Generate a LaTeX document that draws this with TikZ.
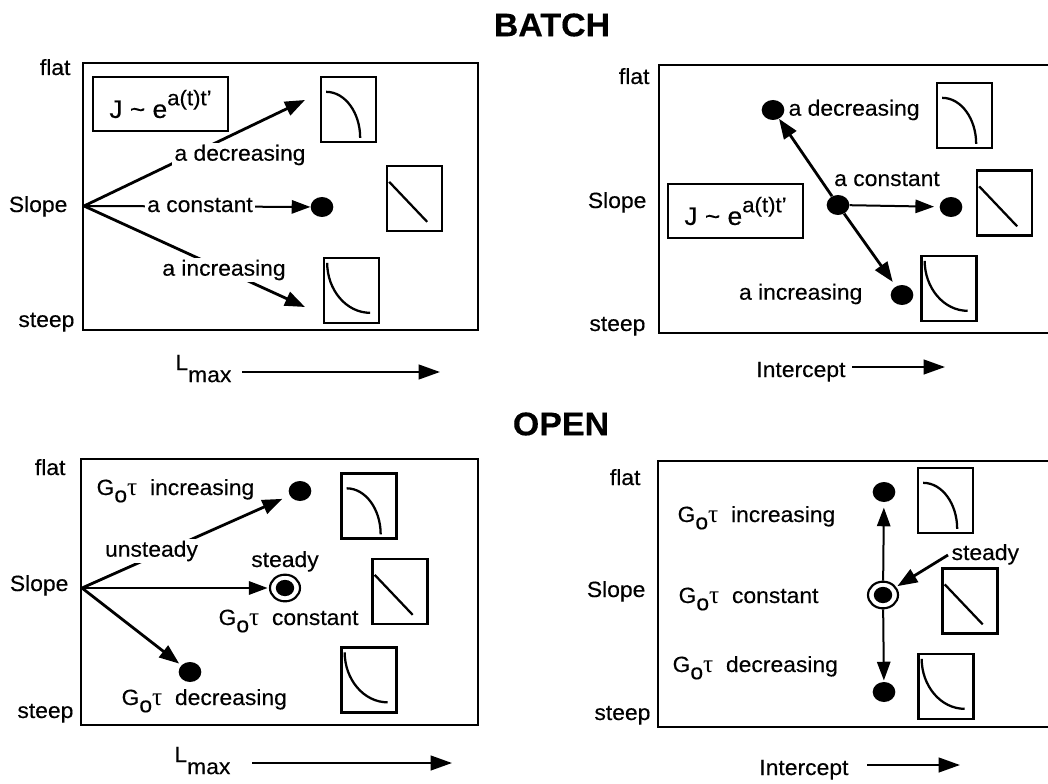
\documentclass[tikz,border=0pt]{standalone}
\usepackage{fontspec}
\setmainfont[FakeStretch=1.04,FakeBold=0.3]{Liberation Sans}
\newfontfamily\taufont[Scale=1.15]{Liberation Serif}
\usetikzlibrary{arrows.meta,shapes.geometric}
\newcommand\jtext{\fontsize{19}{22}\selectfont J \textasciitilde\ e\raisebox{0.5em}{\fontsize{16}{18}\selectfont a(t)t'}}
\newcommand\got{G\raisebox{-0.33em}{o}{\taufont τ}\ \ }
\newcommand\lmax{L\raisebox{-0.55em}{max}}
\begin{document}
\begin{tikzpicture}[x=0.75pt,y=-0.75pt,
  every node/.style={font=\fontsize{16.5}{19}\selectfont, inner sep=1pt},
  title/.style={font=\fontsize{24.5}{28}\selectfont\bfseries},
  panel/.style={draw, line width=2pt},
  jbox/.style={draw, line width=1.8pt, minimum width=101pt, minimum height=40.5pt, inner sep=0pt},
  thumb/.style={draw, line width=1.8pt, minimum width=41pt, minimum height=49pt, inner sep=0pt},
  thumbdec/.style={thumb, path picture={\draw[line width=1.7pt]
     ([shift={(5,15)}]path picture bounding box.north west) .. controls
     ([shift={(24,15)}]path picture bounding box.north west) and
     ([shift={(39,36)}]path picture bounding box.north west) ..
     ([shift={(39,61)}]path picture bounding box.north west);}},
  thumblin/.style={thumb, path picture={\draw[line width=1.7pt]
     ([shift={(2,16)}]path picture bounding box.north west) --
     ([shift={(40,56)}]path picture bounding box.north west);}},
  thumbinc/.style={thumb, path picture={\draw[line width=1.7pt]
     ([shift={(3,5)}]path picture bounding box.north west) .. controls
     ([shift={(3,32)}]path picture bounding box.north west) and
     ([shift={(22,55)}]path picture bounding box.north west) ..
     ([shift={(46,55)}]path picture bounding box.north west);}},
  dot/.style={ellipse, fill, minimum width=17pt, minimum height=15pt, inner sep=0pt},
  ring/.style={ellipse, draw, line width=1.6pt, fill=white, minimum width=22.5pt, minimum height=20pt, inner sep=0pt,
     path picture={\fill[black] (path picture bounding box.center) ellipse [x radius=6.9pt, y radius=6.1pt];}},
  arr/.style={-{Triangle[length=15pt,width=11pt]}, line width=2.1pt},
  arrthin/.style={-{Triangle[length=14pt,width=10pt]}, line width=1.5pt},
  axarr/.style={-{Triangle[length=16pt,width=11pt]}, line width=1.6pt},
  lbl/.style={fill=white, inner sep=1.5pt}
]
\useasboundingbox (0,0) rectangle (1048,784);

% titles
\node[title] (tb) at (552,25) {BATCH};
\node[title] (to) at (561,424) {OPEN};

% ---------------- panel 1 ----------------
\draw[panel] (83,63) rectangle (478,330);
\node[anchor=base east] (p1flat) at (72,75) {flat};
\node[anchor=base east] (p1slope) at (69,212) {Slope};
\node[anchor=base east] (p1steep) at (76,327) {steep};
\coordinate (o1) at (84,206);
\node[jbox] (j1) at (160.5,104) {\jtext};
\coordinate (t1a) at (305,100);
\coordinate (t1c) at (305,307);
\node[dot] (d1) at (322,207) {};
\draw[arr] (o1) -- (t1a);
\draw[arrthin] (o1) -- (d1);
\draw[arr] (o1) -- (t1c);
\node[lbl] (l1a) at (240,155) {a decreasing};
\node[lbl] (l1b) at (200,205) {a constant};
\node[lbl] (l1c) at (224,270) {a increasing};
\node[thumbdec] (k1a) at (348.5,109.5) {};
\node[thumblin] (k1b) at (414.5,198.5) {};
\node[thumbinc] (k1c) at (351.5,290.5) {};
\node[anchor=base east] (x1) at (233,370) {\lmax};
\coordinate (x1s) at (242,372);
\coordinate (x1e) at (440,372);
\draw[axarr] (x1s) -- (x1e);

% ---------------- panel 2 ----------------
\draw[panel] (659,65) rectangle (1056,333);
\node[anchor=base east] (p2flat) at (651,84) {flat};
\node[anchor=base east] (p2slope) at (648,208) {Slope};
\node[anchor=base east] (p2steep) at (647,331) {steep};
\node[jbox] (j2) at (735.5,211) {\jtext};
\node[dot] (c2) at (838,205) {};
\node[dot] (d2a) at (773,110) {};
\node[dot] (d2b) at (951,207) {};
\node[dot] (d2c) at (902,295) {};
\draw[arr] (c2) -- (d2a);
\draw[arrthin, shorten >=4pt] (c2) -- (d2b);
\draw[arr, shorten >=4pt] (c2) -- (d2c);
\node[anchor=west] (l2a) at (787,110) {a decreasing};
\node (l2b) at (887,179) {a constant};
\node[anchor=east] (l2c) at (864,294) {a increasing};
\node[thumbdec] (k2a) at (964.5,115.5) {};
\node[thumblin] (k2b) at (1004.5,203) {};
\node[thumbinc] (k2c) at (949,288.5) {};
\node[anchor=base east] (x2) at (847,377) {Intercept};
\coordinate (x2s) at (852,367);
\coordinate (x2e) at (945,367);
\draw[axarr] (x2s) -- (x2e);

% ---------------- panel 3 ----------------
\draw[panel] (81,459) rectangle (478,725);
\node[anchor=base east] (p3flat) at (67,475) {flat};
\node[anchor=base east] (p3slope) at (70,591) {Slope};
\node[anchor=base east] (p3steep) at (75,718) {steep};
\coordinate (o3) at (82,588);
\node[dot] (d3a) at (300,491) {};
\node[ring] (d3b) at (285,588) {};
\node[dot] (d3c) at (190,672) {};
\draw[arr, shorten >=6pt] (o3) -- (d3a);
\draw[arrthin, shorten >=1pt] (o3) -- (d3b);
\draw[arr, shorten >=2pt] (o3) -- (d3c);
\node[anchor=base west] (l3a) at (95,495) {\got increasing};
\node[lbl] (l3u) at (151.5,551) {unsteady};
\node[anchor=base] (l3s) at (285,567) {steady};
\node[anchor=base west] (l3b) at (217,625) {\got constant};
\node[anchor=base west] (l3c) at (120,705) {\got decreasing};
\node[thumbdec] (k3a) at (369,506) {};
\node[thumblin] (k3b) at (400,591.5) {};
\node[thumbinc] (k3c) at (369,680) {};
\node[anchor=base east] (x3) at (232,762) {\lmax};
\coordinate (x3s) at (252,763);
\coordinate (x3e) at (452,763);
\draw[axarr] (x3s) -- (x3e);

% ---------------- panel 4 ----------------
\draw[panel] (658,461) rectangle (1056,727);
\node[anchor=base east] (p4flat) at (642,485) {flat};
\node[anchor=base east] (p4slope) at (647,597) {Slope};
\node[anchor=base east] (p4steep) at (652,720) {steep};
\node[dot] (d4a) at (884,492) {};
\node[ring] (d4b) at (883,595) {};
\node[dot] (d4c) at (884,692) {};
\draw[arrthin, shorten >=4pt] (d4b) -- (d4a);
\draw[arrthin, shorten >=1pt] (d4b) -- (d4c);
\coordinate (s4) at (948,555);
\draw[arr, shorten >=1pt] (s4) -- (d4b);
\node[anchor=base west] (l4s) at (950,560) {steady};
\node[anchor=base west] (l4a) at (676,522) {\got increasing};
\node[anchor=base west] (l4b) at (677,603) {\got constant};
\node[anchor=base west] (l4c) at (671,672) {\got decreasing};
\node[thumbdec] (k4a) at (945.5,500.5) {};
\node[thumblin] (k4b) at (970,601) {};
\node[thumbinc] (k4c) at (946,686.5) {};
\node[anchor=base east] (x4) at (850,775) {Intercept};
\coordinate (x4s) at (867,765);
\coordinate (x4e) at (960,765);
\draw[axarr] (x4s) -- (x4e);
\end{tikzpicture}
\end{document}
